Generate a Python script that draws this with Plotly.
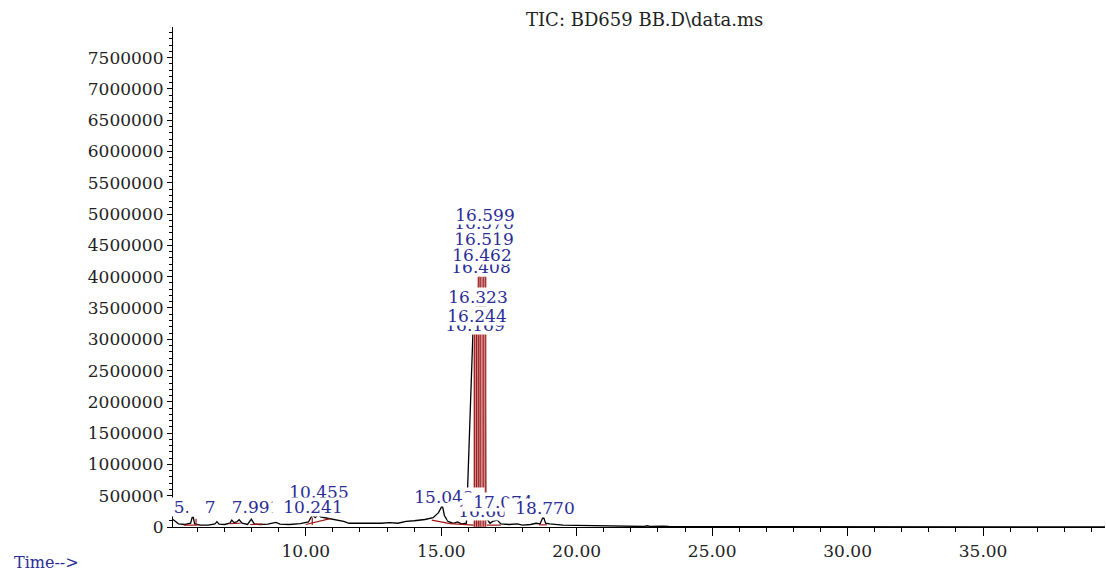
import plotly.graph_objects as go

# ---- chromatogram signal (time in min, abundance) ----
time = [5.10, 5.30, 5.55, 5.75, 5.83, 5.90, 6.10, 6.40, 6.65, 6.72, 6.80, 7.00, 7.20, 7.27, 7.35,
        7.45, 7.54, 7.65, 7.85, 7.99, 8.10, 8.30, 8.60, 8.90, 9.05, 9.40, 9.80, 10.10, 10.24,
        10.35, 10.46, 10.55, 10.80, 11.10, 11.40, 11.60, 12.00, 12.40, 12.80, 13.10, 13.40,
        13.70, 14.00, 14.40, 14.70, 14.90, 15.04, 15.12, 15.25, 15.45, 15.60, 15.75, 15.93,
        16.17, 16.24, 16.32, 16.41, 16.46, 16.52, 16.58, 16.60, 16.65, 16.70, 16.80, 16.90,
        17.07, 17.20, 17.50, 17.80, 18.00, 18.30, 18.50, 18.65, 18.77, 18.85, 19.00, 19.50,
        20.00, 20.50, 21.00, 21.50, 22.00, 22.50, 22.60, 22.70, 23.20, 23.40, 24.00, 26.00,
        28.00, 29.28, 29.40, 32.00, 36.00, 39.50]
abundance = [120000, 50000, 40000, 60000, 190000, 50000, 30000, 30000, 50000, 85000, 45000,
             40000, 60000, 110000, 70000, 80000, 115000, 60000, 40000, 125000, 50000, 40000,
             45000, 75000, 45000, 40000, 55000, 80000, 190000, 150000, 195000, 160000, 140000,
             120000, 90000, 60000, 55000, 60000, 60000, 70000, 60000, 90000, 100000, 120000,
             150000, 230000, 345000, 180000, 90000, 60000, 80000, 50000, 60000, 3100000,
             3240000, 3550000, 4030000, 4220000, 4470000, 4760000, 4780000, 120000, 120000,
             60000, 90000, 110000, 50000, 40000, 50000, 30000, 40000, 60000, 50000, 170000,
             60000, 50000, 30000, 25000, 20000, 20000, 15000, 10000, 8000, 20000, 8000, 15000,
             8000, 5000, 5000, 4000, 15000, 4000, 3000, 3000, 3000]

# ---- integration baselines (red) ----
base_t0 = [5.50, 7.18, 7.95, 10.00, 14.65, 15.32, 16.68, 18.60]
base_t1 = [6.00, 7.60, 8.40, 10.90, 15.32, 16.20, 17.20, 18.90]
base_v0 = [30000, 55000, 40000, 40000, 110000, 55000, 30000, 35000]
base_v1 = [30000, 60000, 45000, 135000, 55000, 30000, 30000, 35000]
drop_t = [5.95, 10.24]
drop_v = [130000, 150000]

# ---- integrated main-peak areas (red fill) ----
int_start = [16.20, 16.27, 16.35, 16.43, 16.49, 16.54, 16.60]
int_end = [16.27, 16.35, 16.43, 16.49, 16.54, 16.60, 16.66]
int_top = [3300000, 3700000, 4000000, 4000000, 4000000, 4000000, 4000000]

# ---- peak labels (drawn in this order; later ones cover earlier ones) ----
lab_text = ["5.843", "7.273", "7.991", "10.455", "10.241", "15.043", "16.663", "17.074",
            "18.770", "16.169", "16.244", "16.323", "16.408", "16.462", "16.519", "16.576",
            "16.599"]
lab_t = [6.03, 7.17, 8.16, 10.49, 10.27, 15.10, 16.73, 17.28, 18.83, 16.25, 16.32, 16.36,
         16.47, 16.51, 16.58, 16.58, 16.60]
lab_v = [160000, 160000, 160000, 400000, 160000, 320000, 96000, 240000, 144000, 3070000,
         3210000, 3510000, 3990000, 4190000, 4440000, 4700000, 4820000]

x_ticks = [10, 15, 20, 25, 30, 35]
x_ticklabels = ["10.00", "15.00", "20.00", "25.00", "30.00", "35.00"]
y_ticks = [0, 500000, 1000000, 1500000, 2000000, 2500000, 3000000, 3500000, 4000000,
           4500000, 5000000, 5500000, 6000000, 6500000, 7000000, 7500000]

FONT = "DejaVu Serif"
BLUE = "#2B2D96"
RED = "#8E1212"

fig = go.Figure()
fig.add_trace(go.Scatter(x=time, y=abundance, mode="lines",
                         line=dict(color="black", width=1.3), hoverinfo="skip"))

bx, by = [], []
for a, b, va, vb in zip(base_t0, base_t1, base_v0, base_v1):
    bx += [a, b, None]
    by += [va, vb, None]
for t, v in zip(drop_t, drop_v):
    bx += [t, t, None]
    by += [30000, v, None]
fig.add_trace(go.Scatter(x=bx, y=by, mode="lines", line=dict(color="#A01414", width=1.2),
                         hoverinfo="skip"))

for s, e, top in zip(int_start, int_end, int_top):
    fig.add_trace(go.Scatter(x=[s, s, e, e, s], y=[0, top, top, 0, 0], mode="lines",
                             fill="toself", fillcolor=RED,
                             line=dict(color="#E2A0A0", width=0.7), hoverinfo="skip"))

for txt, t, v in zip(lab_text, lab_t, lab_v):
    fig.add_annotation(x=t, y=v, xref="x", yref="y", text=txt, showarrow=False,
                       xanchor="center", yanchor="bottom", bgcolor="white", borderpad=0,
                       width=80, height=18,
                       font=dict(family=FONT, size=17, color=BLUE))

fig.add_annotation(x=0.506, y=1.014, xref="paper", yref="paper",
                   text="TIC: BD659 BB.D\\data.ms", showarrow=False,
                   xanchor="center", yanchor="middle",
                   font=dict(family=FONT, size=18, color="#222"))
fig.add_annotation(x=-0.1727, y=-0.07, xref="paper", yref="paper", text="Time-->",
                   showarrow=False, xanchor="left", yanchor="middle",
                   font=dict(family=FONT, size=16, color=BLUE))

fig.update_layout(
    width=1106, height=572,
    margin=dict(l=173, r=1, t=27, b=45),
    paper_bgcolor="white", plot_bgcolor="white",
    showlegend=False, hovermode=False,
    font=dict(family=FONT, size=17, color="#222"),
)
fig.update_xaxes(range=[5.1, 39.5], tickvals=x_ticks, ticktext=x_ticklabels,
                 automargin=False,
                 showgrid=False, zeroline=False, showline=True, linecolor="black",
                 linewidth=1.2, ticks="outside", ticklen=8, tickcolor="black",
                 minor=dict(dtick=1, tick0=0, ticks="outside", ticklen=4, tickcolor="black"))
fig.update_yaxes(range=[0, 7990000], tickvals=y_ticks, tickformat="d",
                 automargin=False,
                 showgrid=False, zeroline=False, showline=True, linecolor="black",
                 linewidth=1.2, ticks="outside", ticklen=5, tickcolor="black",
                 minor=dict(dtick=100000, tick0=0, ticks="outside", ticklen=3,
                            tickcolor="black"))

fig.write_html("out.html", config={"displayModeBar": False},
               post_script="document.body.style.margin='0';document.body.style.overflow='hidden';")
